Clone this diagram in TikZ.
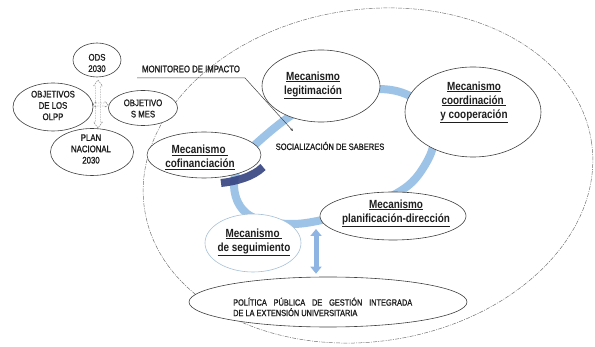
\documentclass[tikz,border=0pt]{standalone}
\usepackage{fontspec}
\setmainfont{Liberation Sans}[FakeStretch=0.84]
\newfontface\capsf{Liberation Sans}[FakeStretch=0.82,FakeBold=1.2]
\usetikzlibrary{arrows.meta,shapes.geometric}
\definecolor{ringblue}{RGB}{157,195,230}
\definecolor{arrblue}{RGB}{141,180,226}
\definecolor{darkseg}{RGB}{52,66,128}
\definecolor{txt}{RGB}{30,30,30}
\definecolor{segborder}{RGB}{165,192,215}
\begin{document}
\begin{tikzpicture}[x=1pt,y=-1pt,
  ell/.style={ellipse, draw=black!75, line width=0.6pt, fill=white, inner sep=0pt},
  mech/.style={font=\bfseries\fontsize{11.8}{14}\selectfont, text=txt, align=center, inner sep=0pt},
  small/.style={font=\capsf\fontsize{9.5}{11.3}\selectfont, text=txt, align=center, inner sep=0pt},
  ringline/.style={ringblue, line width=8pt},
  bigell/.style={draw=black!55, line width=0.5pt, dash pattern=on 4pt off 1.2pt on 1pt off 1.2pt},
  hollow/.style={black!55, line width=0.45pt, dash pattern=on 1.5pt off 1pt}]
\useasboundingbox (0,0) rectangle (595,347);
% outer dashed ellipse
\draw[bigell, rotate around={8.6:(368,175.5)}] (368,175.5) ellipse [x radius=226, y radius=166];
% blue ring
\draw[ringline] plot[smooth cycle, tension=0.6] coordinates {(258,142) (240,162) (234,185) (240,206) (257,219) (290,224) (322,220) (365,208) (405,188) (425,165) (434,140) (428,112) (408,95) (378,89) (335,95) (295,113)};
% monitoreo
\coordinate (monA) at (137,78);
\coordinate (monB) at (245,78);
\coordinate (socP) at (293,131);
\draw[black!75, line width=0.5pt, -{Stealth[length=3pt,width=2.6pt]}] (monA) -- (monB) -- (socP);
\node[font=\capsf\fontsize{9.5}{11}\selectfont, text=txt, inner sep=0pt] (monT) at (191,69) {MONITOREO DE IMPACTO};
\node[font=\capsf\fontsize{9.2}{11}\selectfont, text=txt, inner sep=0pt] (socT) at (330,146) {SOCIALIZACIÓN DE SABERES};
% mechanisms
\node[ell, minimum width=118pt, minimum height=72pt] (leg) at (321,86) {};
\node[mech] (legT) at (313,85) {\underline{Mecanismo}\\\underline{legitimación}};
\node[ell, minimum width=136pt, minimum height=90pt] (coord) at (473,112) {};
\node[mech] (coordT) at (474,102) {\underline{Mecanismo}\\\underline{coordinación\ }\\\underline{y cooperación}};
\node[ell, minimum width=146pt, minimum height=48pt] (plan) at (393,216) {};
\node[mech] (planT) at (396,213) {\underline{Mecanismo}\\\underline{planificación-dirección}};
\node[ell, minimum width=114pt, minimum height=46pt] (cofin) at (204,155) {};
\node[mech] (cofinT) at (200,157) {\underline{Mecanismo\ }\\\underline{cofinanciación}};
\node[ell, draw=segborder, minimum width=96pt, minimum height=58pt] (seg) at (253,243) {};
\node[mech] (segT) at (254,242) {\underline{Mecanismo\ }\\\underline{de seguimiento}};
\node[ell, minimum width=278pt, minimum height=50pt] (pol) at (328,302) {};
\node[font=\capsf\fontsize{9}{10.5}\selectfont, text=txt, align=left, inner sep=0pt, anchor=west] (polT) at (233,307) {\makebox[179pt][s]{POLÍTICA PÚBLICA DE GESTIÓN INTEGRADA}\\DE LA EXTENSIÓN UNIVERSITARIA};
% dark segment
\coordinate (dkA) at (221,183);
\coordinate (dkB) at (263,167);
\draw[darkseg, line width=8pt, opacity=0.9] (dkA) .. controls (235,181.5) and (253,177) .. (dkB);
% double arrow ring - politica
\coordinate (ringB) at (316,229);
\draw[arrblue, line width=5pt, {Triangle[width=11pt,length=7pt]}-{Triangle[width=11pt,length=7pt]}, shorten >=3pt] (ringB) -- (ringB |- pol.north);
% left cluster
\node[ell, minimum width=48pt, minimum height=34pt] (ods) at (97,60) {};
\node[small] (odsT) at (97,63) {ODS\\2030};
\node[ell, minimum width=80pt, minimum height=48pt] (olpp) at (53,107) {};
\node[small] (olppT) at (53,105.5) {OBJETIVOS\\DE LOS\\OLPP};
\node[ell, minimum width=69pt, minimum height=35pt] (mes) at (143,108) {};
\node[small] (mesT) at (143,108.5) {OBJETIVO\\S MES};
\node[ell, minimum width=83pt, minimum height=47pt] (pn) at (92,152) {};
\node[small] (pnT) at (91,149) {PLAN\\NACIONAL\\2030};
\draw[hollow] (98,80) -- (102.5,86) -- (100.5,86) -- (100.5,122) -- (102.5,122) -- (98,128) -- (93.5,122) -- (95.5,122) -- (95.5,86) -- (93.5,86) -- cycle;
\draw[hollow] (93,104.5) -- (96,101.5) -- (96,103) -- (105,103) -- (105,101.5) -- (108,104.5) -- (105,107.5) -- (105,106) -- (96,106) -- (96,107.5) -- cycle;
\end{tikzpicture}
\end{document}
